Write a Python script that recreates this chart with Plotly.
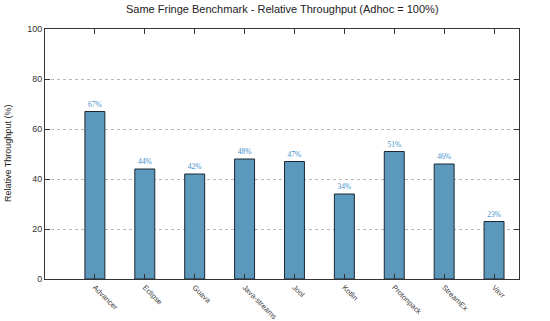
import plotly.graph_objects as go

categories = ["Advancer", "Eclipse", "Guava", "Java-streams", "Jool", "Kotlin", "Protonpack", "StreamEx", "Vavr"]
values = [67, 44, 42, 48, 47, 34, 51, 46, 23]
labels = [f"{v}%" for v in values]
y_ticks = [0, 20, 40, 60, 80, 100]

x_idx = list(range(len(categories)))

fig = go.Figure()
fig.add_trace(go.Bar(
    x=x_idx, y=values, width=0.4,
    marker=dict(color="#5b98bb", line=dict(color="#1b2733", width=1)),
    text=labels, textposition="outside", cliponaxis=False,
    textfont=dict(family="Liberation Serif, Times New Roman, serif", size=7.5, color="#3d8fc9"),
    hoverinfo="skip",
))

fig.update_layout(
    width=550, height=321,
    margin=dict(l=45, r=31, t=29, b=42, autoexpand=False),
    paper_bgcolor="white", plot_bgcolor="white",
    showlegend=False,
    font=dict(family="Liberation Sans, Arial, sans-serif", size=9, color="#333"),
    annotations=[
        dict(text="Same Fringe Benchmark - Relative Throughput (Adhoc = 100%)",
             xref="paper", yref="paper", x=0.5, y=1 + 20 / 250, xanchor="center", yanchor="middle",
             showarrow=False, font=dict(size=11, color="#222")),
        dict(text="Relative Throughput (%)", textangle=-90,
             xref="paper", yref="paper", x=-37 / 474, y=0.5, xanchor="center", yanchor="middle",
             showarrow=False, font=dict(size=9, color="#222")),
    ],
)
fig.update_xaxes(
    range=[-1, 8.5], tickvals=x_idx, ticktext=categories, tickangle=45,
    ticks="inside", ticklen=5, tickcolor="#333", mirror="ticks", automargin=False,
    showline=True, linecolor="#333", linewidth=1, showgrid=False, zeroline=False,
    tickfont=dict(size=7.5, color="#444"),
)
fig.update_yaxes(
    range=[0, 100], tickvals=y_ticks, automargin=False,
    ticks="inside", ticklen=5, tickcolor="#333", mirror="ticks",
    showline=True, linecolor="#333", linewidth=1,
    showgrid=True, gridcolor="#b8b8b8", griddash="dot", gridwidth=1, zeroline=False,
    tickfont=dict(size=9, color="#333"),
)

fig.write_html("out.html", config={"displayModeBar": False},
               post_script="document.body.style.margin='0';document.body.style.overflow='hidden';")
